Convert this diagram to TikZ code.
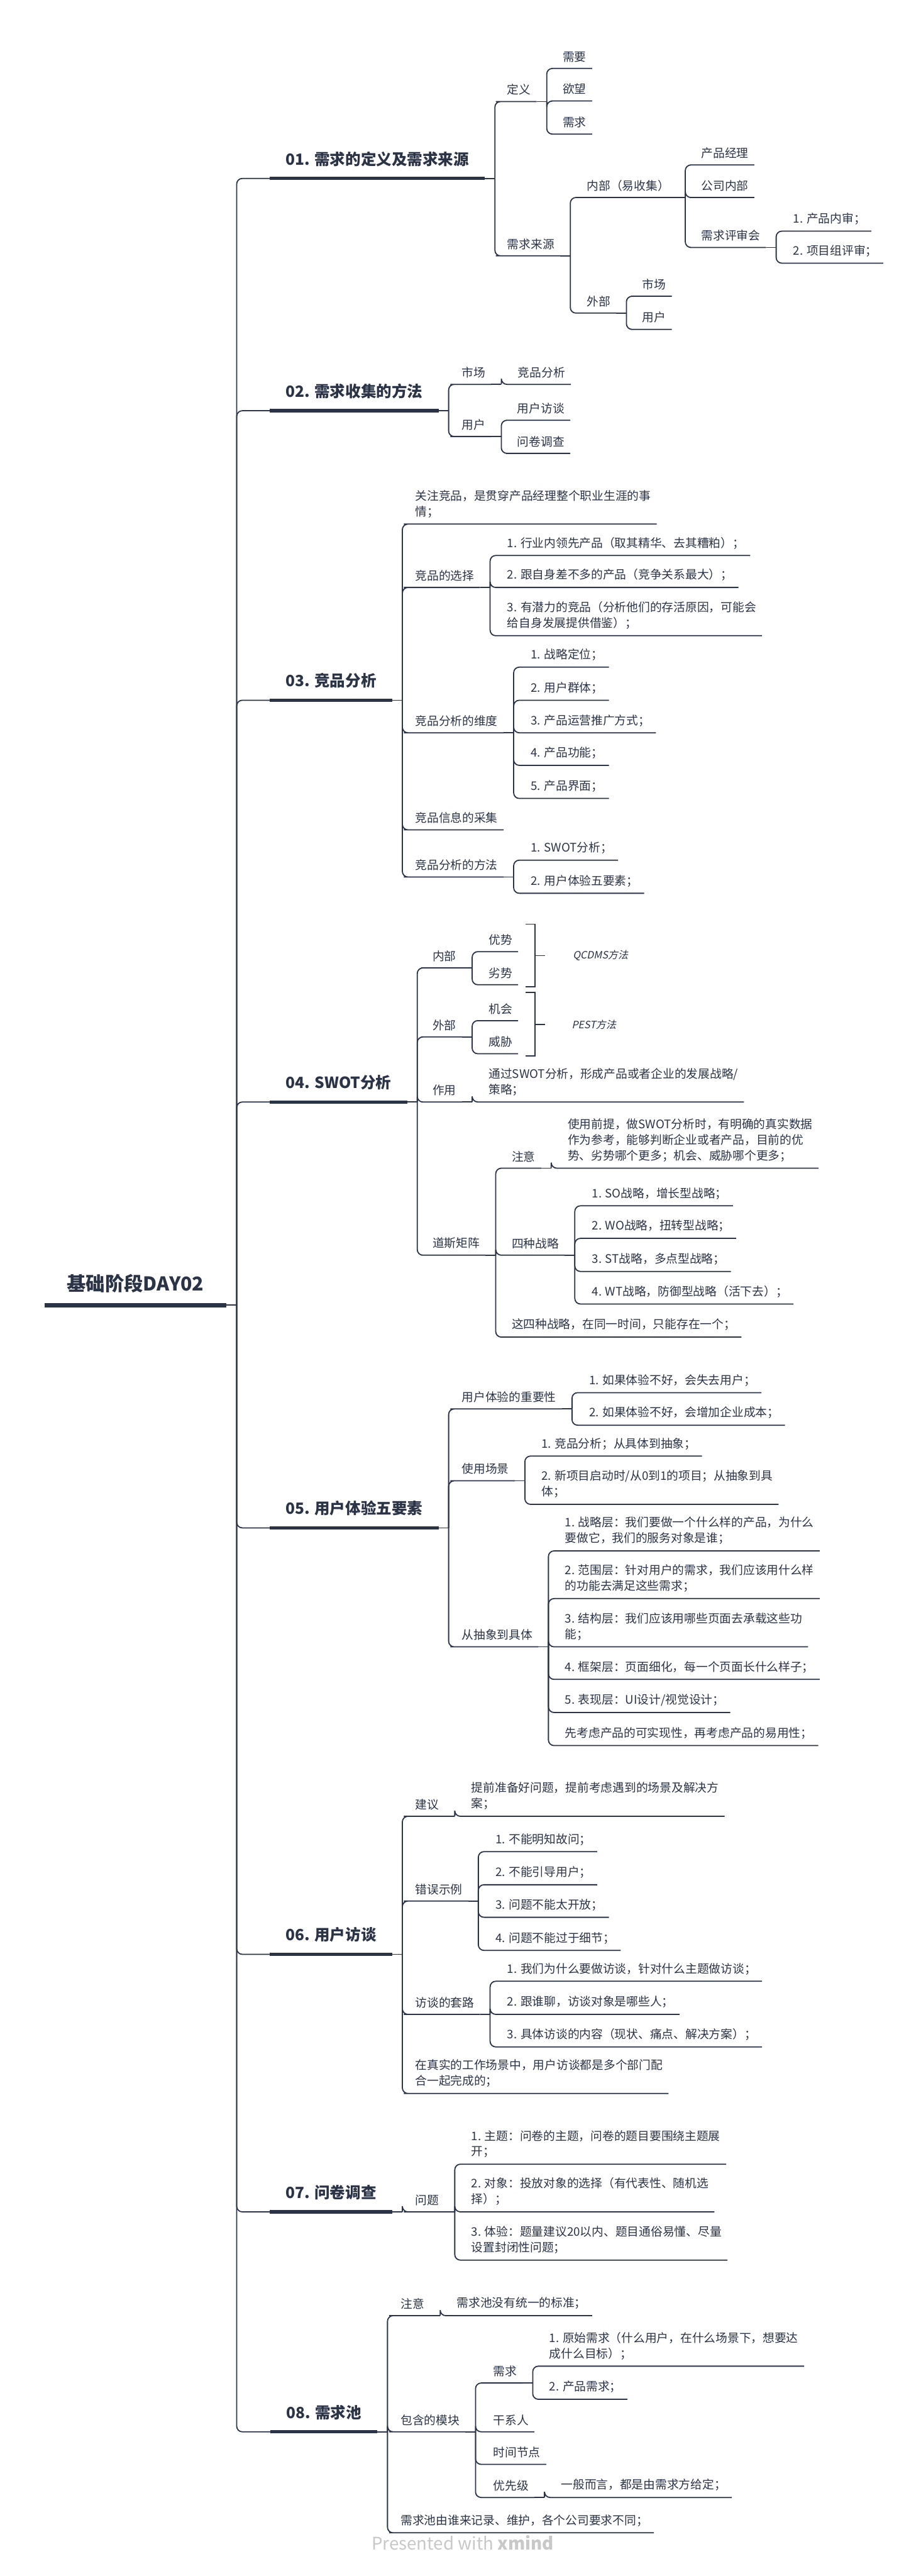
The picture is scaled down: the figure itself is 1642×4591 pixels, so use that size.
\documentclass[tikz,border=0pt]{standalone}
\usepackage{fontspec}
\setmainfont{Noto Sans CJK SC}
\newfontfamily\sumfont[FakeSlant=0.2]{Noto Sans CJK SC}
\usepackage{tikz}
\usetikzlibrary{calc}
\definecolor{ink}{HTML}{2B3447}
\definecolor{mark}{HTML}{C8C8C8}
\tikzstyle{root}    = [anchor=south east, inner xsep=20pt, inner ysep=11pt,
                       text=ink, font=\fontsize{17}{20}\selectfont\bfseries]
\tikzstyle{branch}  = [anchor=south west, inner xsep=14pt, inner ysep=10.5pt,
                       text=ink, font=\fontsize{13.75}{17}\selectfont\bfseries]
\tikzstyle{topic}   = [anchor=south west, align=left, inner xsep=5pt,
                       inner ysep=5.5pt, text=ink, font=\fontsize{10.5}{14}\selectfont]
\tikzstyle{summary} = [anchor=west, inner xsep=5pt, text=ink,
                       font=\sumfont\fontsize{9}{11}\selectfont]
\tikzstyle{link}    = [draw=ink, line width=1pt]
\tikzstyle{bar}     = [draw=ink, line width=3pt]
% parent -> children: short stub, trunk, rounded turn, underline
\newcommand{\linkup}[2]{%
  \draw [link] (#1.south east) -- ++(9pt,0) coordinate (#1-t);
  \foreach \kid in {#2} {\draw [link, rounded corners=5pt]
    (#1-t) |- (\kid.south west) -- (\kid.south east);}}

\begin{document}
\begin{tikzpicture}[x=0.5pt, y=-0.5pt]

    \fill [white] (0,0) rectangle (1642,4591);

    % ── Root ────────────────────────────────────────────────────────────────
    \node (root) [root] at (404,2326) {基础阶段DAY02};

    % ── 01 ──────────────────────────────────────────────────────────────────
    \node (b1)  [branch] at (481,318)  {01. 需求的定义及需求来源};
    \node (dy)  [topic]  at (894,181)  {定义};
    \node (dy1) [topic]  at (993,122)  {需要};
    \node (dy2) [topic]  at (993,180)  {欲望};
    \node (dy3) [topic]  at (993,239)  {需求};
    \node (ly)  [topic]  at (894,456)  {需求来源};
    \node (nb)  [topic]  at (1036,352) {内部（易收集）};
    \node (pm)  [topic]  at (1240,294) {产品经理};
    \node (gs)  [topic]  at (1240,352) {公司内部};
    \node (ps)  [topic]  at (1240,441) {需求评审会};
    \node (ps1) [topic]  at (1404,412) {1. 产品内审；};
    \node (ps2) [topic]  at (1404,469) {2. 项目组评审；};
    \node (wb)  [topic]  at (1036,558) {外部};
    \node (sc)  [topic]  at (1135,528) {市场};
    \node (yh)  [topic]  at (1135,587) {用户};

    % ── 02 ──────────────────────────────────────────────────────────────────
    \node (b2)  [branch] at (481,732)  {02. 需求收集的方法};
    \node (sc2) [topic]  at (813,685)  {市场};
    \node (jp)  [topic]  at (913,685)  {竞品分析};
    \node (yh2) [topic]  at (813,778)  {用户};
    \node (ft)  [topic]  at (912,749)  {用户访谈};
    \node (wj)  [topic]  at (912,808)  {问卷调查};

    % ── 03 ──────────────────────────────────────────────────────────────────
    \node (b3)  [branch] at (481,1248) {03. 竞品分析};
    \node (gz)  [topic]  at (730,934)  {关注竞品，是贯穿产品经理整个职业生涯的事\\情；};
    \node (xz)  [topic]  at (730,1047) {竞品的选择};
    \node (xz1) [topic]  at (894,990)  {1. 行业内领先产品（取其精华、去其糟粕）；};
    \node (xz2) [topic]  at (894,1047) {2. 跟自身差不多的产品（竞争关系最大）；};
    \node (xz3) [topic]  at (894,1133) {3. 有潜力的竞品（分析他们的存活原因，可能会\\给自身发展提供借鉴）；};
    \node (wd)  [topic]  at (730,1306) {竞品分析的维度};
    \node (wd1) [topic]  at (936,1189) {1. 战略定位；};
    \node (wd2) [topic]  at (936,1248) {2. 用户群体；};
    \node (wd3) [topic]  at (936,1306) {3. 产品运营推广方式；};
    \node (wd4) [topic]  at (936,1364) {4. 产品功能；};
    \node (wd5) [topic]  at (936,1423) {5. 产品界面；};
    \node (cj)  [topic]  at (730,1479) {竞品信息的采集};
    \node (ff)  [topic]  at (730,1563) {竞品分析的方法};
    \node (ff1) [topic]  at (936,1533) {1. SWOT分析；};
    \node (ff2) [topic]  at (936,1592) {2. 用户体验五要素；};

    % ── 04 ──────────────────────────────────────────────────────────────────
    \node (b4)   [branch] at (481,1964) {04. SWOT分析};
    \node (nb4)  [topic]  at (761,1725) {内部};
    \node (ys)   [topic]  at (861,1696) {优势};
    \node (ls)   [topic]  at (861,1755) {劣势};
    \node (wb4)  [topic]  at (761,1848) {外部};
    \node (jh)   [topic]  at (861,1819) {机会};
    \node (wx)   [topic]  at (861,1878) {威胁};
    \node (zy)   [topic]  at (761,1964) {作用};
    \node (zy1)  [topic]  at (861,1964) {通过SWOT分析，形成产品或者企业的发展战略/\\策略；};
    \node (ds)   [topic]  at (761,2237) {道斯矩阵};
    \node (zy4)  [topic]  at (902,2082) {注意};
    \node (zy4a) [topic]  at (1002,2082) {使用前提，做SWOT分析时，有明确的真实数据\\作为参考，能够判断企业或者产品，目前的优\\势、劣势哪个更多；机会、威胁哪个更多；};
    \node (sz)   [topic]  at (902,2237) {四种战略};
    \node (sz1)  [topic]  at (1045,2149) {1. SO战略，增长型战略；};
    \node (sz2)  [topic]  at (1045,2207) {2. WO战略，扭转型战略；};
    \node (sz3)  [topic]  at (1045,2266) {3. ST战略，多点型战略；};
    \node (sz4)  [topic]  at (1045,2324) {4. WT战略，防御型战略（活下去）；};
    \node (sz5)  [topic]  at (902,2383) {这四种战略，在同一时间，只能存在一个；};

    % summaries
    \draw [link] (937,1647) -- (954,1647) -- (954,1759) -- (937,1759);
    \coordinate (qa) at (954,1703);
    \draw [link] (qa) -- ++(9pt,0);
    \node (qc) [summary] at (1011,1703) {QCDMS方法};
    \draw [link] (937,1769) -- (954,1769) -- (954,1882) -- (937,1882);
    \coordinate (pa) at (954,1826);
    \draw [link] (pa) -- ++(9pt,0);
    \node (pe) [summary] at (1009,1826) {PEST方法};

    % ── 05 ──────────────────────────────────────────────────────────────────
    \node (b5)   [branch] at (481,2723) {05. 用户体验五要素};
    \node (zy5)  [topic]  at (813,2511) {用户体验的重要性};
    \node (zy5a) [topic]  at (1040,2482) {1. 如果体验不好，会失去用户；};
    \node (zy5b) [topic]  at (1040,2540) {2. 如果体验不好，会增加企业成本；};
    \node (cj5)  [topic]  at (813,2639) {使用场景};
    \node (cj5a) [topic]  at (955,2595) {1. 竞品分析；从具体到抽象；};
    \node (cj5b) [topic]  at (955,2681) {2. 新项目启动时/从0到1的项目；从抽象到具\\体；};
    \node (cx)   [topic]  at (813,2935) {从抽象到具体};
    \node (cx1)  [topic]  at (997,2764) {1. 战略层：我们要做一个什么样的产品，为什么\\要做它，我们的服务对象是谁；};
    \node (cx2)  [topic]  at (997,2849) {2. 范围层：针对用户的需求，我们应该用什么样\\的功能去满足这些需求；};
    \node (cx3)  [topic]  at (997,2935) {3. 结构层：我们应该用哪些页面去承载这些功\\能；};
    \node (cx4)  [topic]  at (997,2993) {4. 框架层：页面细化，每一个页面长什么样子；};
    \node (cx5)  [topic]  at (997,3052) {5. 表现层：UI设计/视觉设计；};
    \node (cx6)  [topic]  at (997,3111) {先考虑产品的可实现性，再考虑产品的易用性；};

    % ── 06 ──────────────────────────────────────────────────────────────────
    \node (b6)  [branch] at (481,3483) {06. 用户访谈};
    \node (jy)  [topic]  at (730,3237) {建议};
    \node (jy1) [topic]  at (830,3237) {提前准备好问题，提前考虑遇到的场景及解决方\\案；};
    \node (cw)  [topic]  at (730,3388) {错误示例};
    \node (cw1) [topic]  at (873,3300) {1. 不能明知故问；};
    \node (cw2) [topic]  at (873,3359) {2. 不能引导用户；};
    \node (cw3) [topic]  at (873,3417) {3. 问题不能太开放；};
    \node (cw4) [topic]  at (873,3476) {4. 问题不能过于细节；};
    \node (tl)  [topic]  at (730,3590) {访谈的套路};
    \node (tl1) [topic]  at (894,3531) {1. 我们为什么要做访谈，针对什么主题做访谈；};
    \node (tl2) [topic]  at (894,3590) {2. 跟谁聊，访谈对象是哪些人；};
    \node (tl3) [topic]  at (894,3648) {3. 具体访谈的内容（现状、痛点、解决方案）；};
    \node (zs)  [topic]  at (730,3731) {在真实的工作场景中，用户访谈都是多个部门配\\合一起完成的；};

    % ── 07 ──────────────────────────────────────────────────────────────────
    \node (b7)  [branch] at (481,3942) {07. 问卷调查};
    \node (wt)  [topic]  at (730,3942) {问题};
    \node (wt1) [topic]  at (830,3857) {1. 主题：问卷的主题，问卷的题目要围绕主题展\\开；};
    \node (wt2) [topic]  at (830,3942) {2. 对象：投放对象的选择（有代表性、随机选\\择）；};
    \node (wt3) [topic]  at (830,4028) {3. 体验：题量建议20以内、题目通俗易懂、尽量\\设置封闭性问题；};

    % ── 08 ──────────────────────────────────────────────────────────────────
    \node (b8)   [branch] at (482,4334) {08. 需求池};
    \node (zy8)  [topic]  at (704,4127) {注意};
    \node (zy8a) [topic]  at (804,4127) {需求池没有统一的标准；};
    \node (bh)   [topic]  at (704,4334) {包含的模块};
    \node (xq)   [topic]  at (869,4247) {需求};
    \node (xq1)  [topic]  at (969,4217) {1. 原始需求（什么用户，在什么场景下，想要达\\成什么目标）；};
    \node (xq2)  [topic]  at (969,4276) {2. 产品需求；};
    \node (gx)   [topic]  at (869,4334) {干系人};
    \node (sj)   [topic]  at (869,4392) {时间节点};
    \node (yx)   [topic]  at (869,4451) {优先级};
    \node (yx1)  [topic]  at (990,4451) {一般而言，都是由需求方给定；};
    \node (jl)   [topic]  at (704,4514) {需求池由谁来记录、维护，各个公司要求不同；};

    \node (credit) [text=mark, font=\fontsize{15.5}{18}\selectfont] at (825,4532)
        {Presented with \textbf{xmind}};

    % ── Connectors ──────────────────────────────────────────────────────────
    \linkup{root}{b1,b2,b3,b4,b5,b6,b7,b8}
    \linkup{b1}{dy,ly}
    \linkup{dy}{dy1,dy2,dy3}
    \linkup{ly}{nb,wb}
    \linkup{nb}{pm,gs,ps}
    \linkup{ps}{ps1,ps2}
    \linkup{wb}{sc,yh}
    \linkup{b2}{sc2,yh2}
    \linkup{sc2}{jp}
    \linkup{yh2}{ft,wj}
    \linkup{b3}{gz,xz,wd,cj,ff}
    \linkup{xz}{xz1,xz2,xz3}
    \linkup{wd}{wd1,wd2,wd3,wd4,wd5}
    \linkup{ff}{ff1,ff2}
    \linkup{b4}{nb4,wb4,zy,ds}
    \linkup{nb4}{ys,ls}
    \linkup{wb4}{jh,wx}
    \linkup{zy}{zy1}
    \linkup{ds}{zy4,sz,sz5}
    \linkup{zy4}{zy4a}
    \linkup{sz}{sz1,sz2,sz3,sz4}
    \linkup{b5}{zy5,cj5,cx}
    \linkup{zy5}{zy5a,zy5b}
    \linkup{cj5}{cj5a,cj5b}
    \linkup{cx}{cx1,cx2,cx3,cx4,cx5,cx6}
    \linkup{b6}{jy,cw,tl,zs}
    \linkup{jy}{jy1}
    \linkup{cw}{cw1,cw2,cw3,cw4}
    \linkup{tl}{tl1,tl2,tl3}
    \linkup{b7}{wt}
    \linkup{wt}{wt1,wt2,wt3}
    \linkup{b8}{zy8,bh,jl}
    \linkup{zy8}{zy8a}
    \linkup{bh}{xq,gx,sj,yx}
    \linkup{xq}{xq1,xq2}
    \linkup{yx}{yx1}

    % ── Thick bars ──────────────────────────────────────────────────────────
    \draw [bar, line width=4pt] (root.south west) -- (root.south east);
    \foreach \b in {b1,b2,b3,b4,b5,b6,b7,b8}
        \draw [bar] (\b.south west) -- (\b.south east);

\end{tikzpicture}
\end{document}
